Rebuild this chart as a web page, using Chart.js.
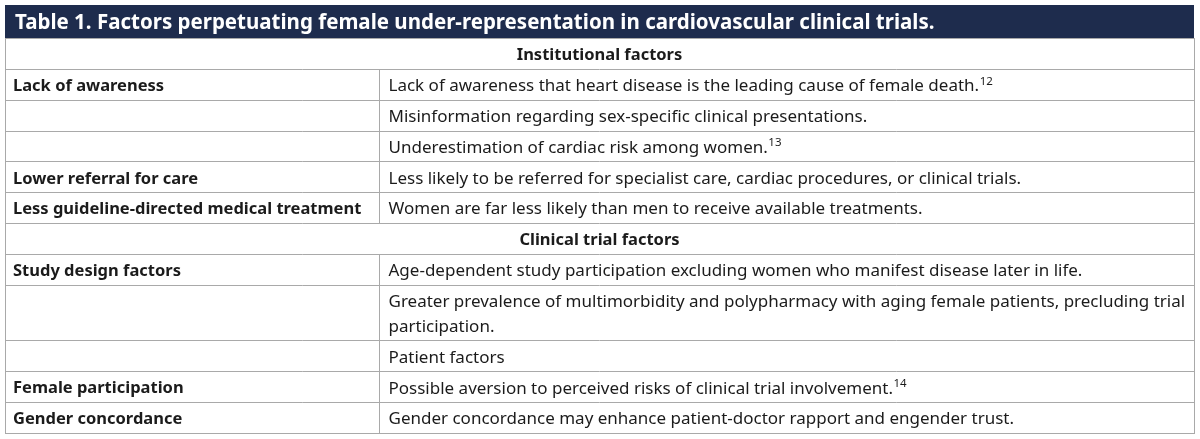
<!DOCTYPE html>
<html>
<head>
<meta charset="utf-8">
<script src="https://cdn.jsdelivr.net/npm/chart.js"></script>
<style>
	body { margin: 0; background: #fff; }
</style>
</head>
<body>
<canvas id="table-chart" width="1200" height="439"></canvas>
<script>
var tableTitle = 'Table 1. Factors perpetuating female under-representation in cardiovascular clinical trials.';

// one entry per table row; section rows span both columns
var factors = [
	'Institutional factors',
	'Lack of awareness',
	'',
	'',
	'Lower referral for care',
	'Less guideline-directed medical treatment',
	'Clinical trial factors',
	'Study design factors',
	'',
	'',
	'Female participation',
	'Gender concordance'
];

var details = [
	'',
	'Lack of awareness that heart disease is the leading cause of female death.',
	'Misinformation regarding sex-specific clinical presentations.',
	'Underestimation of cardiac risk among women.',
	'Less likely to be referred for specialist care, cardiac procedures, or clinical trials.',
	'Women are far less likely than men to receive available treatments.',
	'',
	'Age-dependent study participation excluding women who manifest disease later in life.',
	'Greater prevalence of multimorbidity and polypharmacy with aging female patients, precluding trial\nparticipation.',
	'Patient factors',
	'Possible aversion to perceived risks of clinical trial involvement.',
	'Gender concordance may enhance patient-doctor rapport and engender trust.'
];

var sectionRow = [true, false, false, false, false, false, true, false, false, false, false, false];

var footnotes = ['', '12', '', '13', '', '', '', '', '', '', '14', ''];

// row extents on the y scale, in text lines plus cell padding
var rowPad = 0.24;
var rowBounds = [0];
for (var i = 0; i < details.length; i++) {
	var nLines = details[i] ? details[i].split('\n').length : 1;
	rowBounds.push(rowBounds[i] + nLines + rowPad);
}
var columnSplit = 0.3146;

var tablePlugin = {
	id: 'tableDraw',
	afterDraw: function (chart) {
		var ctx = chart.ctx;
		var a = chart.chartArea;
		var xs = chart.scales.x;
		var ys = chart.scales.y;
		var grid = '#a9a9a9';
		var ink = '#1b1b1b';
		var nudge = 2; // Noto Sans sits a little high with 'middle'
		var px = function (v) { return Math.round(v) + 0.5; };
		var midY = function (v) { return ys.getPixelForValue(v) + nudge; };

		ctx.save();
		// title bar
		ctx.fillStyle = '#1e2c4d';
		ctx.fillRect(a.left, a.top - 33, a.right - a.left, 33);
		ctx.fillStyle = '#ffffff';
		ctx.font = 'bold 20.5px "Noto Sans"';
		ctx.textBaseline = 'middle';
		ctx.textAlign = 'left';
		ctx.fillText(tableTitle, a.left + 10, a.top - 15);

		var splitX = px(xs.getPixelForValue(columnSplit));
		ctx.lineWidth = 1;
		ctx.strokeStyle = grid;

		for (var r = 0; r < details.length; r++) {
			var y0 = px(ys.getPixelForValue(rowBounds[r]));
			var y1 = px(ys.getPixelForValue(rowBounds[r + 1]));
			ctx.beginPath();
			ctx.moveTo(a.left, y1);
			ctx.lineTo(a.right, y1);
			ctx.stroke();

			ctx.fillStyle = ink;
			if (sectionRow[r]) {
				ctx.font = 'bold 16.5px "Noto Sans"';
				ctx.textAlign = 'center';
				ctx.fillText(factors[r], (a.left + a.right) / 2, midY(rowBounds[r] + rowPad / 2 + 0.5));
				continue;
			}
			ctx.beginPath();
			ctx.moveTo(splitX, y0);
			ctx.lineTo(splitX, y1);
			ctx.stroke();

			ctx.textAlign = 'left';
			ctx.font = 'bold 16.5px "Noto Sans"';
			ctx.fillText(factors[r], a.left + 8, midY(rowBounds[r] + rowPad / 2 + 0.5));

			ctx.font = '17px "Noto Sans"';
			var lines = details[r].split('\n');
			for (var k = 0; k < lines.length; k++) {
				var ly = midY(rowBounds[r] + rowPad / 2 + k + 0.5);
				ctx.fillText(lines[k], splitX + 9, ly);
				if (k === lines.length - 1 && footnotes[r]) {
					var w = ctx.measureText(lines[k]).width;
					ctx.font = '11.5px "Noto Sans"';
					ctx.fillText(footnotes[r], splitX + 9.5 + w, ly - 5);
					ctx.font = '17px "Noto Sans"';
				}
			}
		}

		// outer frame
		ctx.strokeStyle = grid;
		ctx.strokeRect(px(a.left), px(a.top), Math.round(a.right - a.left), Math.round(a.bottom - a.top));
		ctx.restore();
	}
};

new Chart(document.getElementById('table-chart'), {
	type: 'scatter',
	data: {
		datasets: [{ data: [] }]
	},
	options: {
		responsive: false,
		animation: false,
		layout: { padding: { left: 5, right: 6, top: 38, bottom: 6 } },
		plugins: {
			legend: { display: false },
			tooltip: { enabled: false }
		},
		scales: {
			x: { type: 'linear', min: 0, max: 1, display: false },
			y: { type: 'linear', min: 0, max: rowBounds[rowBounds.length - 1], reverse: true, display: false }
		}
	},
	plugins: [tablePlugin]
});
</script>
</body>
</html>
